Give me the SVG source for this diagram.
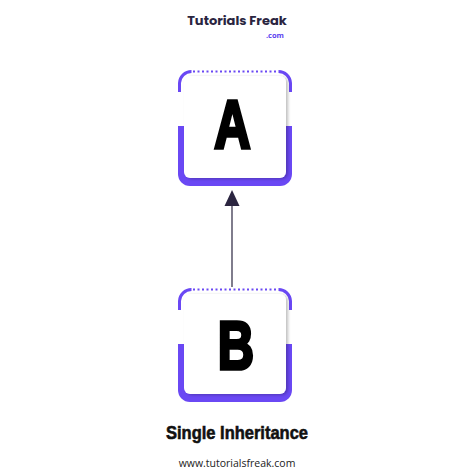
<svg xmlns="http://www.w3.org/2000/svg" width="474" height="474" viewBox="0 0 474 474">
<defs>
<style>
.purple{fill:#6a48f4}
.arc{fill:none;stroke:#6a48f4;stroke-width:3}
.dots{fill:none;stroke:#6a48f4;stroke-width:2;stroke-dasharray:2 2.5}
.card{fill:#fff}
.letter{font-family:"Liberation Sans",Arial,sans-serif;font-weight:bold;font-size:68px;fill:#000;stroke:#000;stroke-width:3.5;stroke-linejoin:miter;text-anchor:middle}
</style>
<filter id="sh" x="-20%" y="-20%" width="140%" height="140%">
<feDropShadow dx="2" dy="1" stdDeviation="1.5" flood-color="#000" flood-opacity="0.25"/>
</filter>
<clipPath id="lowA"><rect x="170" y="126" width="130" height="70"/></clipPath>
<clipPath id="lowB"><rect x="170" y="344" width="130" height="70"/></clipPath>
</defs>
<rect width="474" height="474" fill="#fff"/>

<g id="logo">
<text x="237" y="25" text-anchor="middle" font-family="Poppins,'Open Sans','Liberation Sans',sans-serif" font-weight="bold" font-size="13" fill="#2a2540">Tutorials Freak</text>
<text x="275" y="37.5" text-anchor="middle" font-family="'Open Sans','Liberation Sans',sans-serif" font-weight="bold" font-size="7.5" fill="#5b3ef0">.com</text>
</g>

<g id="connectors">
<line x1="232" y1="287" x2="232" y2="204" stroke="#2b2540" stroke-width="1.2"/>
<polygon points="232,190 239.5,206 224.5,206" fill="#2b2540"/>
</g>

<g id="node-A">
<rect x="178" y="70" width="114" height="116" rx="12" class="purple" clip-path="url(#lowA)"/>
<path d="M179.5 92 V83 A12 12 0 0 1 191.5 71.5" class="arc"/>
<path d="M290.5 92 V83 A12 12 0 0 0 278.5 71.5" class="arc"/>
<line x1="193" y1="71.5" x2="278" y2="71.5" class="dots"/>
<rect x="184" y="76" width="102" height="102" rx="6" class="card" filter="url(#sh)"/>
<text transform="translate(232.5,148) scale(0.74,1)" x="0" y="0" class="letter">A</text>
</g>

<g id="node-B">
<rect x="178" y="288" width="114" height="114" rx="12" class="purple" clip-path="url(#lowB)"/>
<path d="M179.5 310 V301 A12 12 0 0 1 191.5 289.5" class="arc"/>
<path d="M290.5 310 V301 A12 12 0 0 0 278.5 289.5" class="arc"/>
<line x1="193" y1="289.5" x2="278" y2="289.5" class="dots"/>
<rect x="184" y="294" width="102" height="100" rx="6" class="card" filter="url(#sh)"/>
<text transform="translate(236,369) scale(0.74,1)" x="0" y="0" class="letter">B</text>
</g>

<text x="237" y="439" text-anchor="middle" font-family="'Liberation Sans',Arial,sans-serif" font-weight="bold" font-size="19" fill="#111" stroke="#111" stroke-width="0.6" textLength="142" lengthAdjust="spacingAndGlyphs">Single Inheritance</text>
<text x="237" y="467" text-anchor="middle" font-family="'Open Sans','Liberation Sans',sans-serif" font-size="10.5" fill="#222">www.tutorialsfreak.com</text>
</svg>
